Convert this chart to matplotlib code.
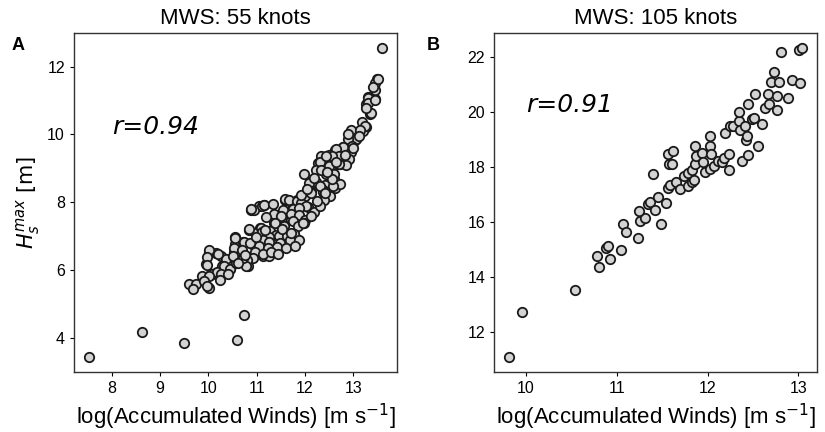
import matplotlib.pyplot as plt
from matplotlib.ticker import MultipleLocator

# Panel A: MWS 55 knots
a_x = [7.52, 8.63, 9.50, 10.59, 10.74, 13.60,
       9.60, 9.74, 9.69, 10.01, 9.87, 10.04, 10.16, 9.94, 10.02, 10.16,
       10.27, 10.37, 10.29, 10.27, 10.45, 10.42, 10.56, 10.66, 10.82, 10.52,
       10.69, 10.54, 10.71, 10.55, 10.84, 10.99, 11.13, 11.06, 11.10, 11.06,
       11.18, 10.98, 10.91, 10.88,
       11.97, 11.15, 11.05, 10.95, 11.59, 11.64, 11.37, 11.51, 11.35, 11.55,
       11.71, 11.71, 11.84, 12.00, 12.14, 12.30, 12.06, 12.19, 11.85, 11.08,
       11.09, 11.27, 11.23, 11.40, 11.55, 11.64, 11.78, 11.09, 11.30, 11.45,
       11.26, 12.33, 12.54, 12.43, 12.58, 12.61, 12.48, 12.26, 12.72,
       13.30, 13.45, 13.27, 13.44, 13.34, 13.18, 13.26, 12.96, 13.19, 13.06,
       13.01, 12.92, 12.78, 12.96, 12.62, 12.78, 12.50, 12.50, 12.30, 12.39,
       12.23, 12.55, 12.72, 12.92, 12.85, 12.53, 12.41, 12.23, 12.62, 12.37,
       12.72, 12.51, 12.40, 12.30, 12.37, 12.12,
       13.48, 13.45, 13.41, 13.52, 13.25, 13.14, 13.06, 12.89, 12.97, 12.78,
       12.64, 12.71, 12.56, 12.44, 12.50, 12.70, 12.59, 12.44, 12.34, 12.09,
       12.30, 12.12, 12.41, 12.57, 12.55, 13.31, 13.30, 13.44, 13.36, 13.27,
       10.89, 11.10, 11.16, 10.84, 11.58, 11.66, 11.83, 11.91, 12.02, 11.75,
       11.88, 11.54, 11.35, 11.51, 11.70, 11.88, 11.99, 11.37, 11.57, 11.75,
       11.86, 11.98, 11.10, 11.26, 11.46, 11.62, 11.77, 11.13, 11.26, 11.48,
       11.68, 11.87, 11.04, 11.24, 11.42, 11.61, 11.79, 10.96, 11.13, 11.29,
       11.43, 10.92, 10.80, 10.63, 10.55, 10.73, 10.52, 10.69, 10.37, 10.20,
       10.02, 9.98, 9.96, 10.08, 10.17, 10.33, 10.27, 10.45, 10.58, 10.78,
       10.23, 10.02, 9.91, 9.97, 10.41, 10.51, 10.71, 10.87, 10.99, 11.17,
       11.92, 12.05, 12.18, 12.25, 12.12, 11.95, 12.46, 12.65, 12.83, 13.00,
       13.12, 12.88, 11.33, 11.52, 11.70, 11.20, 10.76, 10.62]
a_y = [3.45, 4.18, 3.86, 3.94, 4.66, 12.54,
       5.60, 5.60, 5.44, 5.48, 5.81, 5.86, 5.91, 6.17, 6.54, 6.50,
       6.42, 6.31, 6.13, 5.95, 6.03, 6.31, 6.31, 6.31, 6.11, 6.54,
       6.54, 6.78, 6.82, 6.98, 7.19, 6.50, 6.40, 6.70, 6.92, 7.23,
       7.13, 7.09, 6.76, 7.78,
       8.84, 7.92, 7.90, 7.78, 8.08, 8.06, 7.63, 7.58, 7.39, 7.31,
       7.47, 7.78, 8.06, 8.17, 8.57, 8.47, 7.86, 7.72, 7.68, 7.23,
       6.90, 7.15, 6.90, 7.04, 6.98, 6.94, 7.05, 6.64, 6.60, 6.70,
       6.40, 9.35, 9.35, 8.96, 9.06, 8.67, 8.37, 9.16, 9.16,
       11.09, 11.03, 10.89, 11.32, 10.59, 10.36, 10.22, 10.12, 10.10, 9.87,
       9.81, 9.79, 9.63, 9.49, 9.55, 9.35, 9.40, 9.16, 9.18, 8.96,
       8.96, 8.92, 9.12, 9.26, 9.10, 8.67, 8.51, 8.61, 8.41, 8.37,
       8.55, 8.17, 8.08, 7.90, 8.29, 8.29,
       11.62, 11.52, 11.40, 11.62, 10.24, 10.14, 9.85, 9.85, 9.65, 9.63,
       9.57, 9.35, 9.35, 9.37, 9.06, 9.12, 8.82, 8.82, 8.96, 8.57,
       8.47, 8.27, 8.27, 8.47, 8.67, 11.08, 10.93, 11.01, 10.63, 10.78,
       7.80, 7.88, 7.92, 7.21, 8.10, 8.08, 8.04, 7.98, 7.88, 7.80,
       7.82, 7.76, 7.64, 7.58, 7.66, 7.63, 7.49, 7.39, 7.29, 7.45,
       7.29, 7.39, 7.11, 6.98, 7.01, 7.00, 7.07, 6.90, 6.84, 6.80,
       6.90, 6.90, 6.70, 6.66, 6.68, 6.66, 6.72, 6.52, 6.48, 6.54,
       6.46, 6.35, 6.29, 6.39, 6.94, 6.84, 6.64, 6.58, 6.33, 6.46,
       6.58, 6.39, 6.15, 5.89, 5.95, 6.11, 5.89, 6.03, 6.21, 6.11,
       5.72, 5.81, 5.68, 5.52, 5.87, 6.40, 6.37, 6.80, 6.96, 7.19,
       8.20, 8.40, 8.72, 8.05, 7.60, 7.40, 8.90, 9.20, 9.40, 9.60,
       9.95, 10.00, 7.95, 7.20, 7.10, 7.55, 6.45, 6.20]

# Panel B: MWS 105 knots
b_x = [9.81, 9.95, 10.54, 10.78, 10.80, 10.92, 10.88, 10.90, 11.04, 11.07,
       11.10, 11.23, 11.26, 11.31, 11.49, 11.24, 11.34, 11.36, 11.42, 11.45,
       11.54, 11.40, 11.56, 11.59, 11.65, 11.70, 11.74, 11.78, 11.78, 11.83,
       11.83, 11.85, 11.57, 11.61, 11.56, 11.62, 11.86, 11.86, 11.87, 11.94,
       11.95, 11.97, 12.03, 12.03, 12.04, 12.03, 12.07, 12.11, 12.16, 12.18,
       12.23, 12.24, 12.19, 12.25, 12.28, 12.34, 12.36, 12.34, 12.38, 12.41,
       12.42, 12.43, 12.44, 12.44, 12.49, 12.51, 12.52, 12.55, 12.60, 12.63,
       12.66, 12.68, 12.70, 12.73, 12.76, 12.76, 12.79, 12.81, 12.88, 12.93,
       13.01, 13.04, 13.02]
b_y = [11.10, 12.70, 13.53, 14.76, 14.35, 14.64, 15.05, 15.13, 14.96, 15.93,
       15.61, 15.39, 16.04, 16.12, 15.93, 16.39, 16.65, 16.70, 16.41, 16.90,
       16.68, 17.72, 17.21, 17.33, 17.43, 17.19, 17.67, 17.77, 17.28, 17.89,
       17.43, 17.53, 18.08, 18.11, 18.47, 18.57, 18.74, 18.11, 18.37, 18.50,
       18.18, 17.82, 17.92, 18.74, 18.47, 19.13, 18.01, 18.21, 18.16, 18.30,
       17.87, 18.47, 19.22, 19.47, 19.47, 19.64, 19.32, 20.00, 18.21, 19.49,
       18.98, 19.10, 18.43, 20.29, 19.73, 19.76, 20.62, 18.74, 19.56, 20.12,
       20.62, 20.29, 21.09, 21.45, 20.58, 20.07, 21.09, 22.16, 20.48, 21.16,
       22.23, 22.30, 21.02]

panels = [
    ('A', 'MWS: 55 knots', a_x, a_y, 'r=0.94', (8.0, 10.0)),
    ('B', 'MWS: 105 knots', b_x, b_y, 'r=0.91', (10.0, 20.0)),
]

fig = plt.figure(figsize=(8.25, 4.32), dpi=100)
boxes = [[0.0897, 0.139, 0.3915, 0.785], [0.599, 0.139, 0.391, 0.785]]
letter_x = [0.014, 0.517]

for box, lx, (letter, title, xs, ys, rtext, rpos) in zip(boxes, letter_x, panels):
    ax = fig.add_axes(box)
    ax.scatter(xs, ys, s=46, facecolor='#d3d3d3', edgecolor='#1a1a1a',
               linewidth=1.3, zorder=3)
    ax.set_title(title, fontsize=16, family='Liberation Sans', pad=6)
    ax.set_xlabel('log(Accumulated Winds) [m s$^{-1}$]', fontsize=16,
                  family='Liberation Sans')
    ax.text(rpos[0], rpos[1], rtext, fontsize=18, style='italic',
            family='DejaVu Sans', va='baseline')
    ax.xaxis.set_major_locator(MultipleLocator(1))
    ax.tick_params(labelsize=11.5, length=3, width=0.8, direction='out')
    for lab in ax.get_xticklabels() + ax.get_yticklabels():
        lab.set_family('Liberation Sans')
    for sp in ax.spines.values():
        sp.set_color('#333333')
        sp.set_linewidth(1.0)
    fig.text(lx, 0.885, letter, fontsize=13, fontweight='bold',
             family='Liberation Sans')
    if letter == 'A':
        ax.set_ylabel('$H_s^{max}$ [m]', fontsize=15)

fig.savefig('out.png', dpi=100)
